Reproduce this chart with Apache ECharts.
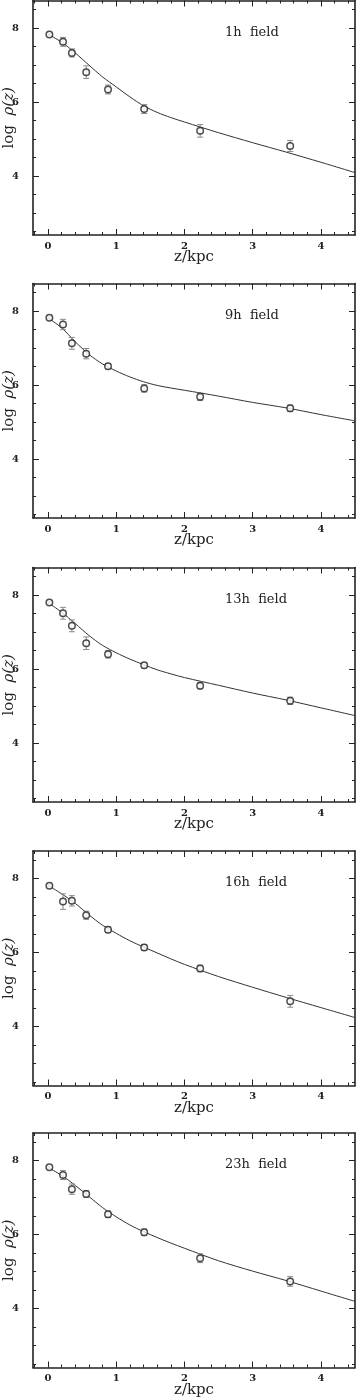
<!DOCTYPE html>
<html><head><meta charset="utf-8">
<script src="https://cdn.jsdelivr.net/npm/echarts@6/dist/echarts.min.js"></script>
<style>html,body{margin:0;padding:0;background:#fff}#c{width:356px;height:1397px}</style>
</head><body><div id="c"></div>
<script>
// ---- data ----
const panelNames = ['1h  field', '9h  field', '13h  field', '16h  field', '23h  field'];
const zData = [0.02, 0.22, 0.35, 0.56, 0.88, 1.41, 2.23, 3.55];

const logRho1h  = [7.83, 7.63, 7.33, 6.81, 6.34, 5.81, 5.22, 4.81];
const err1h     = [0.03, 0.12, 0.11, 0.17, 0.12, 0.12, 0.17, 0.15];
const logRho9h  = [7.82, 7.64, 7.13, 6.85, 6.51, 5.91, 5.68, 5.37];
const err9h     = [0.03, 0.14, 0.16, 0.14, 0.07, 0.10, 0.10, 0.09];
const logRho13h = [7.80, 7.51, 7.17, 6.70, 6.40, 6.10, 5.55, 5.14];
const err13h    = [0.03, 0.16, 0.16, 0.17, 0.10, 0.07, 0.09, 0.10];
const logRho16h = [7.81, 7.38, 7.40, 7.01, 6.62, 6.14, 5.57, 4.68];
const err16h    = [0.03, 0.21, 0.14, 0.11, 0.08, 0.08, 0.09, 0.16];
const logRho23h = [7.82, 7.61, 7.23, 7.10, 6.55, 6.06, 5.36, 4.73];
const err23h    = [0.03, 0.12, 0.14, 0.09, 0.09, 0.09, 0.12, 0.13];

const zModel    = [0, 0.2, 0.4, 0.6, 0.8, 1.0, 1.2, 1.4, 1.6, 1.8, 2.0, 2.5, 3.0, 3.5, 4.0, 4.5];
const model1h   = [7.84, 7.62, 7.33, 7.00, 6.68, 6.41, 6.14, 5.90, 5.72, 5.58, 5.46, 5.17, 4.90, 4.64, 4.37, 4.09];
const model9h   = [7.82, 7.55, 7.17, 6.83, 6.57, 6.38, 6.22, 6.09, 5.99, 5.92, 5.86, 5.70, 5.53, 5.38, 5.20, 5.03];
const model13h  = [7.80, 7.54, 7.23, 6.91, 6.64, 6.44, 6.27, 6.12, 5.98, 5.87, 5.77, 5.56, 5.35, 5.16, 4.95, 4.74];
const model16h  = [7.82, 7.59, 7.33, 7.02, 6.74, 6.52, 6.32, 6.15, 5.99, 5.83, 5.68, 5.35, 5.06, 4.78, 4.51, 4.24];
const model23h  = [7.82, 7.60, 7.33, 7.03, 6.73, 6.48, 6.26, 6.08, 5.92, 5.77, 5.63, 5.29, 5.01, 4.75, 4.47, 4.19];

const xMajorTicks = [0, 1, 2, 3, 4];
const xMinorTicks = [-0.2, 0.2, 0.4, 0.6, 0.8, 1.2, 1.4, 1.6, 1.8, 2.2, 2.4, 2.6, 2.8, 3.2, 3.4, 3.6, 3.8, 4.2, 4.4];
const yMajorTicks = [4, 6, 8];
const yMinorTicks = [2.5, 3, 3.5, 4.5, 5, 5.5, 6.5, 7, 7.5, 8.5];
const xRange = [-0.22, 4.5];
const yRange = [2.4, 8.75];

const obsSets = [logRho1h, logRho9h, logRho13h, logRho16h, logRho23h];
const errSets = [err1h, err9h, err13h, err16h, err23h];
const modelSets = [model1h, model9h, model13h, model16h, model23h];

// ---- layout / style ----
const gridTops = [0.5, 283.5, 567.5, 851, 1133];
const gridH = 234.5;
const ink = '#222';
const FONT = 'DejaVu Serif';

const grids = [], xAxes = [], yAxes = [], series = [], titles = [];

gridTops.forEach((top, gi) => {
  grids.push({left: 33, width: 322, top: top, height: gridH, containLabel: false, outerBoundsMode: 'none'});
  const lineOn = {show: true, onZero: false, lineStyle: {color: ink, width: 1.6}};
  const lineOff = {show: false, onZero: false};
  const tick = (vals, len) => ({show: true, inside: true, length: len, customValues: vals, lineStyle: {color: ink, width: 1}});
  const xb = {gridIndex: gi, type: 'value', min: xRange[0], max: xRange[1], splitLine: {show: false}};
  xAxes.push(Object.assign({}, xb, {
    position: 'bottom', axisLine: lineOn, axisTick: tick(xMajorTicks, 6),
    axisLabel: {show: true, customValues: xMajorTicks, margin: 6, fontSize: 10, fontWeight: 'bold', color: ink, fontFamily: FONT},
    name: 'z/kpc', nameLocation: 'middle', nameGap: 15, nameMoveOverlap: false,
    nameTextStyle: {fontSize: 15, color: ink, fontFamily: FONT}
  }));
  xAxes.push(Object.assign({}, xb, {position: 'bottom', axisLine: lineOff, axisTick: tick(xMinorTicks, 3), axisLabel: {show: false}}));
  xAxes.push(Object.assign({}, xb, {position: 'top', axisLine: lineOn, axisTick: tick(xMajorTicks, 6), axisLabel: {show: false}}));
  xAxes.push(Object.assign({}, xb, {position: 'top', axisLine: lineOff, axisTick: tick(xMinorTicks, 3), axisLabel: {show: false}}));

  const yb = {gridIndex: gi, type: 'value', min: yRange[0], max: yRange[1], splitLine: {show: false}};
  yAxes.push(Object.assign({}, yb, {
    position: 'left', axisLine: lineOn, axisTick: tick(yMajorTicks, 6),
    axisLabel: {show: true, customValues: yMajorTicks, margin: 14, fontSize: 10, fontWeight: 'bold', color: ink, fontFamily: FONT},
    name: '{n|log  }{i|ρ(z)}', nameLocation: 'middle', nameGap: 16, nameRotate: 90, nameMoveOverlap: false,
    nameTextStyle: {rich: {n: {fontSize: 15, color: ink, fontFamily: FONT}, i: {fontSize: 15, color: ink, fontFamily: FONT, fontStyle: 'italic'}}}
  }));
  yAxes.push(Object.assign({}, yb, {position: 'left', axisLine: lineOff, axisTick: tick(yMinorTicks, 3), axisLabel: {show: false}}));
  yAxes.push(Object.assign({}, yb, {position: 'right', axisLine: lineOn, axisTick: tick(yMajorTicks, 6), axisLabel: {show: false}}));
  yAxes.push(Object.assign({}, yb, {position: 'right', axisLine: lineOff, axisTick: tick(yMinorTicks, 3), axisLabel: {show: false}}));

  const ax = gi * 4;
  series.push({
    type: 'line', xAxisIndex: ax, yAxisIndex: ax, showSymbol: false, smooth: 0.3, silent: true,
    data: zModel.map((z, k) => [z, modelSets[gi][k]]),
    lineStyle: {color: '#333', width: 1}, z: 2
  });
  series.push({
    type: 'custom', xAxisIndex: ax, yAxisIndex: ax, silent: true, z: 3,
    data: zData.map((z, k) => [z, obsSets[gi][k], errSets[gi][k]]),
    encode: {x: 0, y: 1},
    renderItem: function (params, api) {
      const x = api.value(0), y = api.value(1), e = api.value(2);
      const lo = api.coord([x, y - e]), hi = api.coord([x, y + e]);
      const w = 3;
      const st = {stroke: '#8a8a8a', lineWidth: 1, fill: null};
      return {type: 'group', children: [
        {type: 'line', shape: {x1: lo[0], y1: lo[1], x2: hi[0], y2: hi[1]}, style: st},
        {type: 'line', shape: {x1: lo[0] - w, y1: lo[1], x2: lo[0] + w, y2: lo[1]}, style: st},
        {type: 'line', shape: {x1: hi[0] - w, y1: hi[1], x2: hi[0] + w, y2: hi[1]}, style: st}
      ]};
    }
  });
  series.push({
    type: 'scatter', xAxisIndex: ax, yAxisIndex: ax, silent: true, z: 4,
    symbol: 'circle', symbolSize: 6.5,
    data: zData.map((z, k) => [z, obsSets[gi][k]]),
    itemStyle: {color: '#fff', borderColor: '#222', borderWidth: 1.5}
  });
  titles.push({
    text: panelNames[gi], left: 225, top: top + 25.5, padding: 0,
    textStyle: {fontSize: 13, fontWeight: 'normal', color: ink, fontFamily: FONT}
  });
});

const chart = echarts.init(document.getElementById('c'), null, {renderer: 'canvas'});
chart.setOption({
  animation: false,
  backgroundColor: '#fff',
  title: titles,
  grid: grids,
  xAxis: xAxes,
  yAxis: yAxes,
  series: series
});
</script>
</body></html>
